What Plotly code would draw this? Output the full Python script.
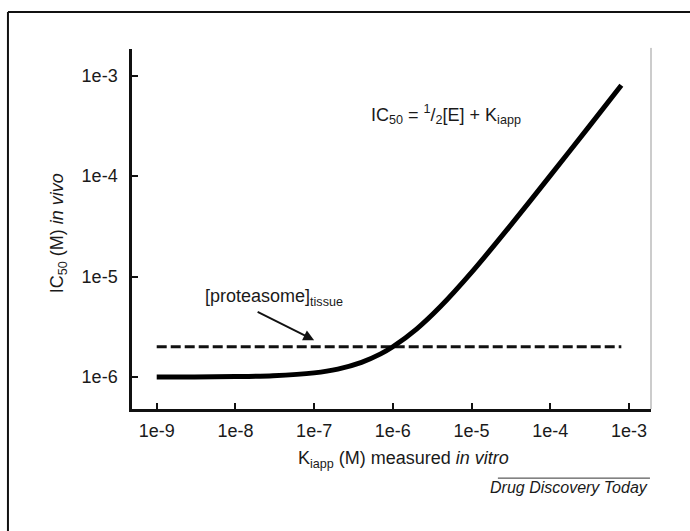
import plotly.graph_objects as go

# Data
k_iapp = [1e-9, 3e-9, 1e-8, 3e-8, 1e-7, 2e-7, 4e-7, 7e-7, 1e-6, 2e-6, 4e-6,
          1e-5, 3e-5, 1e-4, 3e-4, 8e-4]
ic50 = [1.0e-6, 1.0e-6, 1.01e-6, 1.03e-6, 1.1e-6, 1.2e-6, 1.4e-6, 1.7e-6,
        2.0e-6, 3.0e-6, 5.0e-6, 1.1e-5, 3.1e-5, 1.01e-4, 3.0e-4, 8.0e-4]
proteasome_x = [1e-9, 8e-4]
proteasome_y = [2e-6, 2e-6]

x_ticks = [1e-9, 1e-8, 1e-7, 1e-6, 1e-5, 1e-4, 1e-3]
x_labels = ["1e-9", "1e-8", "1e-7", "1e-6", "1e-5", "1e-4", "1e-3"]
y_ticks = [1e-6, 1e-5, 1e-4, 1e-3]
y_labels = ["1e-6", "1e-5", "1e-4", "1e-3"]

FONT = "Liberation Sans, Arial, sans-serif"
TXT = "#1a1a1a"

fig = go.Figure()
fig.add_trace(go.Scatter(x=proteasome_x, y=proteasome_y, mode="lines",
                         line=dict(color="#111", width=3, dash="10px,4px"),
                         showlegend=False, hoverinfo="skip"))
fig.add_trace(go.Scatter(x=k_iapp, y=ic50, mode="lines",
                         line=dict(color="#000", width=5, shape="spline", smoothing=0.8),
                         showlegend=False, hoverinfo="skip"))

axis_common = dict(type="log", showgrid=False, zeroline=False, showline=True,
                   linecolor="#111", linewidth=2.5, ticks="inside", ticklen=6,
                   tickwidth=2, tickcolor="#111",
                   tickfont=dict(family=FONT, size=18, color=TXT))

fig.update_layout(
    width=690, height=531,
    margin=dict(l=132, r=39, t=49, b=122),
    paper_bgcolor="white", plot_bgcolor="white",
    xaxis=dict(range=[-9.314, -2.72], tickvals=x_ticks, ticktext=x_labels,
               ticklabelstandoff=4, **axis_common),
    yaxis=dict(range=[-6.318, -2.736], tickvals=y_ticks, ticktext=y_labels,
               ticklabelstandoff=8, **axis_common),
)

ann_font = dict(family=FONT, size=18, color=TXT)
fig.add_annotation(xref="paper", yref="paper", x=0.605, y=0.817,
                   text="IC<sub>50</sub> = <sup>1</sup>/<sub>2</sub>[E] + K<sub>iapp</sub>",
                   showarrow=False, font=ann_font, xanchor="center", yanchor="middle")
fig.add_annotation(xref="paper", yref="paper", x=0.137, y=0.31,
                   text="[proteasome]<sub>tissue</sub>",
                   showarrow=False, font=ann_font, xanchor="left", yanchor="middle")
fig.add_annotation(x=-7.0, y=-5.633, xref="x", yref="y",
                   text="", showarrow=True, arrowhead=2, arrowsize=1.2,
                   arrowwidth=1.8, arrowcolor="#111", ax=-58, ay=-29)
fig.add_annotation(xref="paper", yref="paper", x=0.524, y=-0.139,
                   text="K<sub>iapp</sub> (M) measured <i>in vitro</i>",
                   showarrow=False, font=ann_font, xanchor="center", yanchor="middle")
fig.add_annotation(xref="paper", yref="paper", x=-0.14, y=0.489,
                   text="IC<sub>50</sub> (M) <i>in vivo</i>", textangle=-90,
                   showarrow=False, font=ann_font, xanchor="center", yanchor="middle")
fig.add_annotation(xref="paper", yref="paper", x=0.998, y=-0.219,
                   text="<i>Drug Discovery Today</i>",
                   showarrow=False, font=dict(family=FONT, size=16, color=TXT),
                   xanchor="right", yanchor="middle")

# decorations: source rule, right plot edge, outer frame
fig.add_shape(type="line", xref="paper", yref="paper", x0=0.705, x1=0.998,
              y0=-0.192, y1=-0.192, line=dict(color="#333", width=1))
fig.add_shape(type="line", xref="paper", yref="paper", x0=1.0, x1=1.0,
              y0=0, y1=1.003, line=dict(color="#999", width=1))
fig.add_shape(type="line", xref="paper", yref="paper", x0=-0.239, x1=-0.239,
              y0=1.103, y1=-0.34, line=dict(color="#111", width=2))
fig.add_shape(type="line", xref="paper", yref="paper", x0=-0.239, x1=1.08,
              y0=1.103, y1=1.103, line=dict(color="#111", width=2))

fig.write_html("out.html", config={"displayModeBar": False},
               post_script="document.body.style.margin='0';")
